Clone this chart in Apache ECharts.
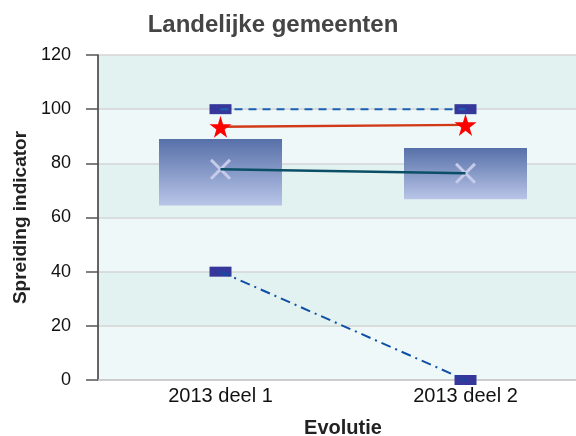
<!DOCTYPE html>
<html>
<head>
<meta charset="utf-8">
<script src="https://cdn.jsdelivr.net/npm/echarts@6/dist/echarts.min.js"></script>
<style>
  html, body { margin: 0; padding: 0; background: #ffffff; }
  #chart { width: 576px; height: 436px; }
</style>
</head>
<body>
<div id="chart"></div>
<script>
// categories en waarden
var categories = ['2013 deel 1', '2013 deel 2'];
var maxVals = [100, 100];
var minVals = [40, 0];
var boxLow = [64.4, 66.7];
var boxHigh = [89, 85.7];
var meanVals = [77.8, 76.3];
var starVals = [93.5, 94.2];
var yTicks = [0, 20, 40, 60, 80, 100, 120];

var boxSize = [];
for (var i = 0; i < boxLow.length; i++) {
  boxSize.push(+(boxHigh[i] - boxLow[i]).toFixed(1));
}

var starPath = 'path://M50,0 L61,35 L98,35 L68,57 L79,91 L50,70 L21,91 L32,57 L2,35 L39,35 Z';
var crossPath = 'path://M0,10 L10,0 L50,40 L90,0 L100,10 L60,50 L100,90 L90,100 L50,60 L10,100 L0,90 L40,50 Z';
var font = 'Liberation Sans, Arial, sans-serif';

var chart = echarts.init(document.getElementById('chart'));
var option = {
  animation: false,
  backgroundColor: '#ffffff',
  title: {
    text: 'Landelijke gemeenten',
    left: 268, textAlign: 'center',
    top: 8,
    textStyle: { fontFamily: font, fontSize: 24, fontWeight: 'bold', color: '#454545' }
  },
  grid: { left: 98, top: 55, width: 490, height: 325, outerBoundsMode: 'none', containLabel: false },
  xAxis: {
    type: 'category',
    data: categories,
    boundaryGap: true,
    name: 'Evolutie',
    nameLocation: 'middle',
    nameGap: 38,
    nameTextStyle: { fontFamily: font, fontSize: 20, fontWeight: 'bold', color: '#222' },
    axisLine: { lineStyle: { color: '#c8c8c8', width: 1.5 } },
    axisTick: { show: false },
    axisLabel: { fontFamily: font, fontSize: 20, color: '#111', margin: 6 }
  },
  yAxis: {
    type: 'value',
    min: yTicks[0], max: yTicks[yTicks.length - 1], interval: 20,
    name: 'Spreiding indicator',
    nameLocation: 'middle',
    nameGap: 68,
    nameTextStyle: { fontFamily: font, fontSize: 19, fontWeight: 'bold', color: '#222' },
    axisLine: { show: true, lineStyle: { color: '#333', width: 1.5 } },
    axisTick: { show: true, length: 12, lineStyle: { color: '#555', width: 1.5 } },
    axisLabel: { fontFamily: font, fontSize: 18, color: '#111', margin: 27 },
    splitLine: { show: true, lineStyle: { color: '#d4d4d4', width: 1.5 } },
    splitArea: { show: true, areaStyle: { color: ['#eff8f8', '#e2f2f1'] } }
  },
  series: [
    {
      name: 'basis', type: 'bar', stack: 'box', barWidth: 123,
      data: boxLow, itemStyle: { color: 'rgba(0,0,0,0)' }, silent: true, z: 2
    },
    {
      name: 'kwartielen', type: 'bar', stack: 'box', barWidth: 123,
      data: boxSize, z: 2,
      itemStyle: {
        color: new echarts.graphic.LinearGradient(0, 0, 0, 1, [
          { offset: 0, color: '#5670a8' },
          { offset: 1, color: '#b9c5e8' }
        ])
      }
    },
    {
      name: 'max', type: 'scatter', data: maxVals, symbol: 'rect', symbolSize: [22, 10],
      itemStyle: { color: '#35389a', opacity: 1 }, z: 3
    },
    {
      name: 'min', type: 'scatter', data: minVals, symbol: 'rect', symbolSize: [22, 10],
      itemStyle: { color: '#35389a', opacity: 1 }, z: 3
    },
    {
      name: 'gemiddelde', type: 'scatter', data: meanVals, symbol: crossPath, symbolSize: 21,
      itemStyle: { color: '#c7cbea', opacity: 1 }, z: 3
    },
    {
      name: 'max lijn', type: 'line', data: maxVals, showSymbol: false, z: 4,
      lineStyle: { color: '#1c62b4', width: 2, type: [8, 6] }
    },
    {
      name: 'min lijn', type: 'line', data: minVals, showSymbol: false, z: 4,
      lineStyle: { color: '#0f4ea6', width: 2, type: [10, 5, 2, 5] }
    },
    {
      name: 'gemiddelde lijn', type: 'line', data: meanVals, showSymbol: false, z: 4,
      lineStyle: { color: '#0b4f66', width: 2.5 }
    },
    {
      name: 'ster', type: 'line', data: starVals, symbol: starPath, symbolSize: 22,
      showSymbol: true, z: 5,
      lineStyle: { color: '#d03a18', width: 2.5 },
      itemStyle: { color: '#ff0000', opacity: 1 }
    }
  ]
};
chart.setOption(option);
</script>
</body>
</html>
